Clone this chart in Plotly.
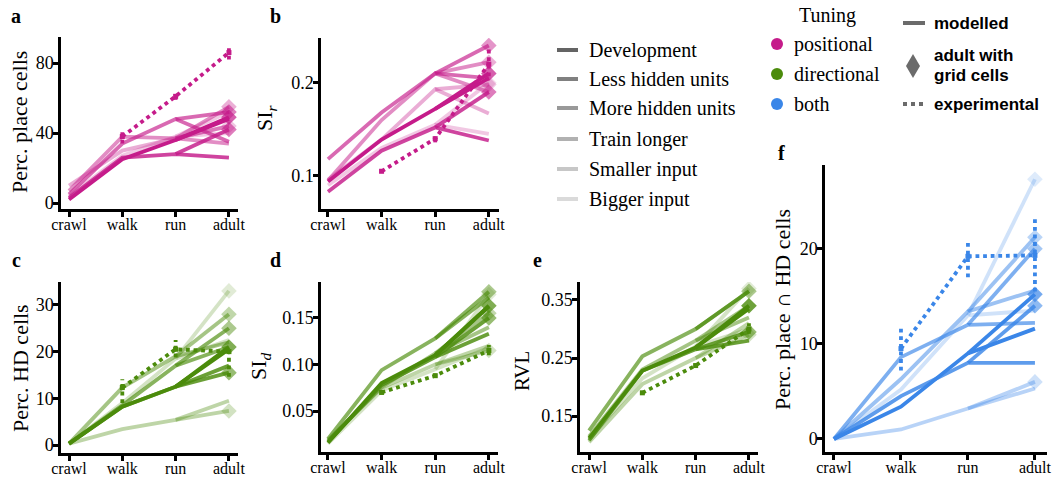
import plotly.graph_objects as go

W, H = 1058, 478
SERIF = "Liberation Serif"
SANS = "Liberation Sans"

stages = ["crawl", "walk", "run", "adult"]
variants = ["Development", "Less hidden units", "More hidden units",
            "Train longer", "Smaller input", "Bigger input"]
alphas = [1.0, 0.82, 0.66, 0.5, 0.36, 0.24]

# ---- panel a: percentage place cells (crawl, walk, run, adult) + adult with grid cells
place_pct = [[2, 25, 36, 48], [3, 26, 28, 26], [5, 34, 48, 35],
             [7, 38, 37, 34], [10, 30, 37, 44], [4, 27, 38, 40]]
place_pct_grid = [49, 42, 52, 55, 44, 52]
place_exp = [38, 61, 86]
place_exp_lo = [34, 59, 82]
place_exp_hi = [42, 63, 90]

# ---- panel b: SI_r
si_r = [[0.094, 0.139, 0.172, 0.205], [0.083, 0.127, 0.152, 0.138],
        [0.118, 0.168, 0.210, 0.205], [0.095, 0.160, 0.210, 0.190],
        [0.096, 0.139, 0.193, 0.167], [0.090, 0.130, 0.155, 0.145]]
si_r_grid = [0.210, 0.190, 0.240, 0.222, 0.198, 0.200]
si_r_exp = [0.105, 0.140, 0.220]
si_r_exp_lo = [0.103, 0.136, 0.207]
si_r_exp_hi = [0.107, 0.144, 0.236]

# ---- panel c: percentage HD cells
hd_pct = [[0.3, 8.2, 12.5, 20.5], [0.3, 8.2, 12.5, 17.0], [0.3, 8.5, 17.0, 21.0],
          [0.3, 12.3, 19.0, 22.0], [0.3, 3.4, 5.4, 9.5], [0.3, 9.0, 18.5, 22.5]]
hd_pct_grid = [21.0, 15.5, 25.0, 28.0, 7.3, 33.0]
hd_exp = [12.3, 20.5, 20.0]
hd_exp_lo = [9.0, 18.8, 14.6]
hd_exp_hi = [14.1, 22.5, 21.0]

# ---- panel d: SI_d
si_d = [[0.016, 0.080, 0.110, 0.162], [0.017, 0.078, 0.108, 0.133],
        [0.020, 0.094, 0.128, 0.172], [0.018, 0.076, 0.112, 0.140],
        [0.019, 0.075, 0.100, 0.120], [0.015, 0.072, 0.095, 0.118]]
si_d_grid = [0.163, 0.150, 0.178, 0.155, 0.115, 0.175]
si_d_exp = [0.070, 0.088, 0.115]
si_d_exp_lo = [0.068, 0.086, 0.110]
si_d_exp_hi = [0.072, 0.090, 0.121]

# ---- panel e: RVL
rvl = [[0.112, 0.228, 0.268, 0.335], [0.108, 0.228, 0.265, 0.280],
       [0.125, 0.253, 0.300, 0.365], [0.115, 0.230, 0.280, 0.320],
       [0.105, 0.205, 0.250, 0.310], [0.110, 0.215, 0.270, 0.300]]
rvl_grid = [0.340, 0.295, 0.365, 0.340, 0.290, 0.370]
rvl_exp = [0.190, 0.237, 0.300]
rvl_exp_lo = [0.187, 0.233, 0.292]
rvl_exp_hi = [0.193, 0.241, 0.310]

# ---- panel f: percentage place ∩ HD cells
both_pct = [[0, 3.4, 9.0, 11.6], [0, 4.5, 8.0, 8.0], [0, 8.6, 12.0, 12.2],
            [0, 6.3, 13.4, 15.6], [0, 1.0, 3.2, 5.3], [0, 5.2, 13.0, 13.5]]
both_pct_grid = [15.2, 14.0, 20.0, 21.2, 6.0, 27.3]
both_exp = [9.5, 19.2, 19.3]
both_exp_lo = [7.2, 17.0, 15.5]
both_exp_hi = [11.8, 21.0, 23.5]

C_POS = (197, 27, 138)
C_DIR = (75, 139, 11)
C_BOTH = (58, 134, 232)


def rgba(c, a):
    return "rgba(%d,%d,%d,%.3f)" % (c[0], c[1], c[2], a)


def px(x):
    return x / W


def py(y):
    return 1 - y / H


panels = [
    ("1", (61, 238), (37, 209), (-0.15, 3.17), (-3.4, 94.9), [0, 40, 80], ["0", "40", "80"],
     place_pct, place_pct_grid, place_exp, place_exp_lo, place_exp_hi, C_POS),
    ("2", (321, 499), (38, 209), (-0.13, 3.19), (0.0645, 0.248), [0.1, 0.2], ["0.1", "0.2"],
     si_r, si_r_grid, si_r_exp, si_r_exp_lo, si_r_exp_hi, C_POS),
    ("3", (61, 238), (282, 453), (-0.15, 3.17), (-1.7, 34.9), [0, 10, 20, 30], ["0", "10", "20", "30"],
     hd_pct, hd_pct_grid, hd_exp, hd_exp_lo, hd_exp_hi, C_DIR),
    ("4", (321, 498), (282, 452), (-0.13, 3.17), (0.0061, 0.1885), [0.05, 0.10, 0.15],
     ["0.05", "0.10", "0.15"], si_d, si_d_grid, si_d_exp, si_d_exp_lo, si_d_exp_hi, C_DIR),
    ("5", (580, 758), (282, 452), (-0.17, 3.17), (0.088, 0.381), [0.15, 0.25, 0.35],
     ["0.15", "0.25", "0.35"], rvl, rvl_grid, rvl_exp, rvl_exp_lo, rvl_exp_hi, C_DIR),
    ("6", (825, 1047), (165, 452), (-0.134, 3.18), (-1.37, 28.8), [0, 10, 20], ["0", "10", "20"],
     both_pct, both_pct_grid, both_exp, both_exp_lo, both_exp_hi, C_BOTH),
]

fig = go.Figure()
layout = dict(width=W, height=H, margin=dict(l=0, r=0, t=0, b=0),
              paper_bgcolor="white", plot_bgcolor="white", showlegend=False)

LW = 3.8
for key, xp, yp, xr, yr, tv, tt, data, grid, exp, lo, hi, col in panels:
    xa = "x" if key == "1" else "x" + key
    ya = "y" if key == "1" else "y" + key
    ax_common = dict(showgrid=False, zeroline=False, showline=True, linecolor="black",
                     linewidth=2.5, ticks="outside", ticklen=5, tickwidth=2.5, tickcolor="black",
                     automargin=False)
    layout["xaxis" + ("" if key == "1" else key)] = dict(
        domain=[px(xp[0]), px(xp[1])], anchor=ya, range=list(xr),
        tickmode="array", tickvals=[0, 1, 2, 3], ticktext=stages, ticklabelstandoff=-6,
        tickfont=dict(family=SERIF, size=16, color="black"), **ax_common)
    layout["yaxis" + ("" if key == "1" else key)] = dict(
        domain=[py(yp[1]), py(yp[0])], anchor=xa, range=list(yr),
        tickmode="array", tickvals=tv, ticktext=tt, ticklabelstandoff=-4,
        tickfont=dict(family=SERIF, size=18, color="black"), **ax_common)
    for vi in reversed(range(len(variants))):
        c = rgba(col, alphas[vi])
        vals = data[vi]
        fig.add_trace(go.Scatter(x=[0, 1, 2, 3], y=vals, mode="lines",
                                 line=dict(color=c, width=LW), xaxis=xa, yaxis=ya,
                                 name=variants[vi], hoverinfo="skip"))
        fig.add_trace(go.Scatter(x=[2, 3], y=[vals[2], grid[vi]], mode="lines+markers",
                                 line=dict(color=c, width=LW),
                                 marker=dict(symbol="diamond", size=[0, 12], color=c,
                                             line=dict(width=0)),
                                 xaxis=xa, yaxis=ya, hoverinfo="skip"))
    ec = rgba(col, 1.0)
    fig.add_trace(go.Scatter(x=[1, 2, 3], y=exp, mode="lines+markers",
                             line=dict(color=ec, width=LW, dash="dot"),
                             marker=dict(symbol="square", size=5, color=ec),
                             xaxis=xa, yaxis=ya, hoverinfo="skip"))
    ex, ey = [], []
    for i in range(3):
        ex += [i + 1, i + 1, None]
        ey += [lo[i], hi[i], None]
    fig.add_trace(go.Scatter(x=ex, y=ey, mode="lines",
                             line=dict(color=ec, width=LW, dash="dot"),
                             xaxis=xa, yaxis=ya, hoverinfo="skip"))

annotations = []
shapes = []


def txt(x, y, s, size=20, family=SERIF, xanchor="left", angle=0, color="black"):
    annotations.append(dict(x=px(x), y=py(y), xref="paper", yref="paper", text=s,
                            showarrow=False, xanchor=xanchor, yanchor="middle",
                            textangle=angle, font=dict(family=family, size=size, color=color)))


for lab, x, y in [("a", 16, 16), ("b", 275, 16), ("c", 16, 260), ("d", 275, 260),
                  ("e", 537, 260), ("f", 781, 153)]:
    txt(x, y, "<b>%s</b>" % lab, size=20, xanchor="center")

txt(20, 122, "Perc. place cells", size=22, angle=-90, xanchor="center")
txt(266, 118, "SI<sub><i>r</i></sub>", size=22, angle=-90, xanchor="center")
txt(20, 368, "Perc. HD cells", size=22, angle=-90, xanchor="center")
txt(260, 366, "SI<sub><i>d</i></sub>", size=22, angle=-90, xanchor="center")
txt(522, 371, "RVL", size=21, angle=-90, xanchor="center")
txt(782, 310, "Perc. place ∩ HD cells", size=22, angle=-90, xanchor="center")

leg_y = [50, 79, 108, 139, 169, 199]
for vi, name in enumerate(variants):
    shapes.append(dict(type="line", xref="paper", yref="paper",
                       x0=px(557), x1=px(578), y0=py(leg_y[vi]), y1=py(leg_y[vi]),
                       line=dict(color=rgba((100, 100, 100), alphas[vi]), width=4)))
    txt(587, leg_y[vi], name)

txt(827, 15, "Tuning", xanchor="center")
for (lab, col), y in zip([("positional", C_POS), ("directional", C_DIR), ("both", C_BOTH)],
                         [44, 74, 104]):
    shapes.append(dict(type="circle", xref="paper", yref="paper",
                       x0=px(771), x1=px(783), y0=py(y + 6), y1=py(y - 6),
                       fillcolor=rgba(col, 1), line=dict(width=0)))
    txt(792, y, lab)

G = "#6b6b6b"
shapes.append(dict(type="line", xref="paper", yref="paper", x0=px(903), x1=px(925),
                   y0=py(23), y1=py(23), line=dict(color=G, width=4)))
txt(932, 23, "<b>modelled</b>", size=17, family=SANS)
shapes.append(dict(type="path", xref="paper", yref="paper",
                   path="M %f,%f L %f,%f L %f,%f L %f,%f Z" % (
                       px(913), py(54), px(920), py(66), px(913), py(78), px(906), py(66)),
                   fillcolor=G, line=dict(width=0)))
txt(932, 55, "<b>adult with</b>", size=17, family=SANS)
txt(932, 75, "<b>grid cells</b>", size=17, family=SANS)
shapes.append(dict(type="line", xref="paper", yref="paper", x0=px(903), x1=px(925),
                   y0=py(104), y1=py(104), line=dict(color=G, width=4, dash="dot")))
txt(932, 104, "<b>experimental</b>", size=17, family=SANS)

layout["annotations"] = annotations
layout["shapes"] = shapes
fig.update_layout(**layout)
fig.write_html("out.html", config={"displayModeBar": False},
               post_script="document.body.style.margin='0px';document.body.style.padding='0px';")
